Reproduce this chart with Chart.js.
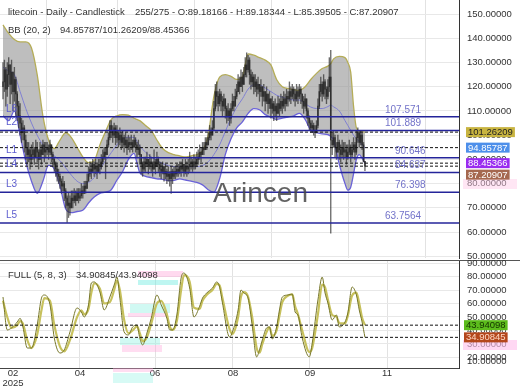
<!DOCTYPE html>
<html><head><meta charset="utf-8">
<script src="https://cdn.jsdelivr.net/npm/chart.js@4.4.1/dist/chart.umd.min.js"></script>
<style>
html,body{margin:0;padding:0;background:#fff;width:520px;height:390px;overflow:hidden}
#c1{position:absolute;left:0;top:0}
#c2{position:absolute;left:0;top:258px}
</style></head><body>
<canvas id="c1" width="520" height="272"></canvas>
<canvas id="c2" width="520" height="132"></canvas>
<script>
// ---------------- DATA ----------------
const firstOpen = 120;
const closes = [
122,127,119,125,129,121,126,118,123,117,
112,108,105,101,103,98,95,92,94,90,
92,94,91,95,93,90,94,92,96,93,
94,95,93,96,92,90,88,86,84,83,
81,79,80,77,74,71,72,70,74,73,
75,73,76,74,75,77,76,79,78,81,
84,86,85,88,86,87,85,88,87,89,
91,93,92,96,99,104,102,100,103,99,
101,98,100,97,99,96,98,95,97,96,
97,95,98,96,94,95,92,88,86,89,
88,90,87,89,88,86,89,87,90,88,
86,85,87,84,85,83,84,82,85,83,
85,84,86,85,87,86,88,85,87,86,
87,88,89,87,89,88,90,91,93,92,
95,94,97,96,99,101,100,103,111,118,
116,113,117,114,112,115,111,108,110,107,
111,114,112,116,118,122,120,124,121,125,
129,127,131,125,122,124,120,122,119,121,
118,120,116,118,114,117,113,115,111,113,
110,112,109,113,111,114,112,115,113,116,
115,118,116,119,117,115,118,116,119,117,
114,112,115,110,107,105,103,104,102,101,
104,112,118,121,117,122,119,116,120,124,
98,96,99,95,93,97,94,92,95,93,
94,91,93,95,92,94,96,93,99,101,
97,100,96,89.18166,87.20907];
const highs = [
130,131,128,130,132,129,131,126,128,124,
118,114,113,107,106,104,100,97,97,95,
96,97,95,98,97,94,97,96,98,97,
97,97,96,98,96,93,91,89,88,86,
84,82,83,81,78,75,76,75,77,77,
78,77,78,78,78,80,79,81,81,84,
87,89,88,90,89,90,88,90,90,92,
94,95,95,98,101,106,106,104,105,104,
104,102,103,101,102,100,101,99,100,99,
100,98,100,99,97,98,96,92,89,91,
91,93,90,92,91,89,94,90,93,91,
89,88,89,87,88,86,87,85,87,86,
87,87,88,88,89,89,90,88,90,89,
90,93,91,90,92,91,93,94,96,95,
97,97,99,99,101,104,103,106,114,121,
122,118,119,118,116,117,115,112,113,111,
113,117,116,119,121,125,124,127,126,128,
132,134,133,132,127,126,125,125,123,124,
121,123,120,121,118,120,117,118,115,116,
114,115,113,116,115,117,116,118,117,119,
118,122,120,121,120,119,121,120,121,120,
117,116,117,115,111,108,106,106,105,104,
106,115,121,124,122,125,123,120,123,132,
135,101,102,100,97,100,98,96,98,97,
97,96,96,98,96,97,99,97,102,103,
102,102,101,97,89.18344];
const lows = [
115,118,112,116,120,113,117,110,114,108,
106,103,100,97,98,93,90,88,89,86,
88,90,88,91,89,86,90,88,92,89,
91,92,90,92,89,87,85,83,81,80,
78,76,77,73,70,64,66,67,70,70,
72,71,73,72,73,74,74,76,76,78,
81,83,82,85,83,84,82,85,84,86,
88,90,82,92,95,98,99,97,99,96,
97,95,96,94,95,93,95,92,94,93,
94,93,95,93,91,92,88,84,83,85,
85,87,84,86,85,83,86,84,87,85,
83,82,84,81,82,80,81,79,76,80,
82,82,83,83,84,83,85,83,84,83,
84,85,86,85,86,86,87,88,90,89,
92,92,94,94,96,98,98,100,102,110,
112,110,112,110,108,110,107,105,106,104,
105,110,110,112,115,118,117,120,118,121,
124,124,126,121,119,120,117,118,116,117,
114,116,112,114,110,113,109,111,107,109,
106,108,106,109,108,110,109,111,110,112,
112,114,113,115,114,112,114,113,115,113,
111,109,111,107,104,102,101,101,100,99,
101,103,111,116,114,116,115,113,115,118,
59.5,92,95,91,90,93,90,89,91,90,
91,88,90,92,89,91,93,90,92,97,
95,96,94,89,85.39505];

// Bollinger bands (20,2)
const bbIdx = [0,4,8,12,16,20,24,28,32,36,40,44,48,52,56,60,64,68,72,76,80,84,88,92,94,96,100,104,108,112,116,120,124,128,132,136,140,144,148,152,156,160,164,168,172,176,180,184,188,192,196,200,204,208,212,216,220,224,228,230,232,236,240,242,244,246,248,250,252,254];
const bbUpper = [145.5,142,139.5,138.5,138.5,136,125,108,98,94.5,98,101,99,95,91,88.7,89.5,96,101.5,106.5,108,108.5,108.3,107,106.5,106,104,102,98,94.5,92.8,92,91.5,91,91.5,92,93.5,100,116,124,125,124.3,123,124,133.5,133,132,131,129,123,120,119.3,118.8,118.5,120,123,125.5,127.5,128.5,129.5,131.5,132.5,132,130,126,112,103,101.8,101.5,101.26209];
const bbLower = [108,106,110,100,89,81,76,81,87.5,86,79,69.5,68,68.5,69,72,74.5,76,76.5,77.5,81.5,85,90,92.5,88.5,84.5,83,82.5,82,81.8,81.2,81.3,82,81.5,81,80.5,79.5,77.5,76.5,82,92,98.5,103,105.5,109,111,110.5,108.5,107.5,106.5,107,107.5,108,109,106.5,102,101,100.5,100.2,99.5,98,88,80,77.3,78.5,84,90,92,90.5,88.45366];
const bbMiddle = [128,126.5,125,118,111,105,100,96,93.5,91.5,89.5,86.5,83.5,81,80,80.5,82.5,86,89.5,92.8,96,98.5,99.2,99,97.5,95.5,93,91,89.5,88.3,87.5,87,87,87,87,87,87.5,89,92,96,101.5,107,111.5,115,119,120.8,120.7,119.5,118,116.5,115.7,115,114.5,114.5,113,111.6,111,111,111.8,112.4,111.7,110,106,104,102,100,98.5,97.5,96,94.85787];

// Full stochastic (5,8,3)
const stochIdx = [0,3,6,10,12,14,17,20,24,27,29,33,36,40,43,47,52,55,57,60,62,64,68,71,75,78,80,82,85,88,91,94,96,98,101,104,108,111,115,117,119,122,125,127,131,134,138,140,143,147,150,152,154,159,161,165,167,169,172,175,178,180,182,185,187,189,192,194,196,200,203,205,207,210,215,217,221,224,226,228,231,234,236,240,242,245,248,250,252,254];
const stochK = [64.8,40.4,41.9,46.3,49,42.6,27,27,44,64,66.3,59,34.4,23.3,25.6,38.9,56.7,53.7,50,59,75.2,76,68.5,55.2,64.8,73.7,79.6,64,38.9,36.7,42.6,44,34.4,29.3,38.1,49,66.3,59,49,40.4,40.4,51.5,78.9,82.6,71.5,50,58,64,67.8,71.5,76,72.2,60.4,35.2,38.9,55.2,70,67.8,64,42.6,20.4,25.6,33,41.9,42.6,33.7,42.6,55.2,64.8,66.3,67,53.7,51.5,34.4,20.4,30.7,62.6,79.6,67.8,60.4,47.8,51.5,42.6,46.3,53,72.2,66.3,55.2,46.3,34.90845];
const stochD = [62,50,42,44,47,45,33,27,37,55,64,62,44,28,24.5,33,50,55,52,56,68,75,71,60,61,70,77,70,48,38,40,43,38,32,35,45,60,62,52,43,40.4,47,70,81,76,57,56,62,66.5,70,74.5,73.5,64,41,37.5,50,65,68.5,65,49,27,23.5,30,39,42.3,36,40,51,61,65.8,66.8,58,52,40,24,27,52,74,72,63,51.5,50.3,45.5,45.2,51,66,68,60,49.5,43.94098];

// Levels
const levels = [107.571, 101.889, 90.646, 84.637, 76.398, 63.7564];
const levelNames = ['L6','L2','L1','L4','L3','L5'];

// Axis ticks
const xTickPos = [7, 54, 106.7, 161.4, 215.4, 269.5];
const xTickLabels = [['02','2025'], '04', '06', '08', '09', '11'];
const priceTicks = [50,60,70,80,90,100,110,120,130,140,150];
const stochTicks = [17.4,20,30,40,50,60,70,80,90];
const stochTickText = ['10.00000','20.00000','30.00000','40.00000','50.00000','60.00000','70.00000','80.00000','90.00000'];

// Header texts
const title1 = 'litecoin - Daily - Candlestick';
const title2 = '255/275 - O:89.18166 - H:89.18344 - L:85.39505 - C:87.20907';
const bbTitle = 'BB (20, 2)';
const bbValues = '94.85787/101.26209/88.45366';
const stTitle = 'FULL (5, 8, 3)';
const stValues = '34.90845/43.94098';

// ---------------- STYLE / LAYOUT ----------------
const X_MIN = -2.1, X_MAX = 320;
const FONT = '"Liberation Sans", Arial, sans-serif';
const levelLabelX = [385, 385, 395, 395, 395, 385];
Chart.defaults.font.family = FONT;
Chart.defaults.font.size = 9.5;
Chart.defaults.color = '#333';

const opens = closes.map((c, i) => i === 0 ? firstOpen : closes[i - 1]);
const pts = (idx, vals) => idx.map((x, k) => ({x, y: vals[k]}));
const hLine = (v, color, width, dash, order) => ({
  type: 'line', data: [{x: X_MIN, y: v}, {x: X_MAX, y: v}], borderColor: color,
  borderWidth: width, borderDash: dash, pointRadius: 0, fill: false, order
});
const noPadY = s => { s.width = 61; s.paddingTop = 0; s.paddingBottom = 0; };
const noPadX = h => s => { s.height = h; s.paddingLeft = 0; s.paddingRight = 0; };

function drawTags(ctx, scale, items, x0) {
  ctx.font = '9.5px ' + FONT;
  ctx.textBaseline = 'middle';
  ctx.textAlign = 'left';
  let lastBottom = -1e9;
  items.map(it => Object.assign({}, it, {py: scale.getPixelForValue(it.v)}))
    .sort((a, b) => a.py - b.py)
    .forEach(it => {
      let top = it.py - 5;
      if (top < lastBottom + 1.5) top = lastBottom + 1.5;
      const txt = it.v.toFixed(5);
      const w = ctx.measureText(txt).width + 4;
      ctx.fillStyle = it.bg; ctx.fillRect(x0, top, w, 10);
      ctx.fillStyle = it.fg; ctx.fillText(txt, x0 + 2, top + 5.5);
      lastBottom = top + 10;
    });
}

const overlay1 = {
  id: 'overlay1',
  afterDatasetsDraw(chart) {
    const {ctx} = chart; const y = chart.scales.y;
    ctx.save();
    ctx.font = '10px ' + FONT; ctx.textBaseline = 'middle'; ctx.textAlign = 'left';
    levels.forEach((v, k) => {
      const py = y.getPixelForValue(v);
      ctx.fillStyle = '#7373c9'; ctx.fillText(String(v), levelLabelX[k], py - 7);
      ctx.fillStyle = '#5d5dcf'; ctx.fillText(levelNames[k], 6, py - 8);
    });
    ctx.font = '28px ' + FONT; ctx.fillStyle = 'rgba(70,70,70,0.85)';
    ctx.textAlign = 'center'; ctx.textBaseline = 'alphabetic';
    ctx.fillText('Arincen', 260.5, 202);
    ctx.restore();
  },
  afterDraw(chart) {
    const {ctx} = chart; const y = chart.scales.y;
    ctx.save();
    ctx.font = '9.5px ' + FONT; ctx.fillStyle = '#333'; ctx.textBaseline = 'middle'; ctx.textAlign = 'left';
    ctx.fillText(title1, 8, 12.5);
    ctx.fillText(title2, 135, 12.5);
    ctx.fillText(bbTitle, 8, 30);
    ctx.fillText(bbValues, 60, 30);
    ctx.fillStyle = 'rgba(255,200,230,0.45)';
    ctx.fillRect(463, 179, 54, 10);
    drawTags(ctx, y, [
      {v: bbUpper[bbUpper.length - 1], bg: '#c8b440', fg: '#222'},
      {v: bbMiddle[bbMiddle.length - 1], bg: '#4d8fea', fg: '#fff'},
      {v: bbLower[bbLower.length - 1], bg: '#9a2cf0', fg: '#fff'},
      {v: closes[closes.length - 1], bg: '#a5684f', fg: '#fff'}
    ], 466);
    ctx.restore();
  }
};

new Chart(document.getElementById('c1'), {
  type: 'bar',
  data: { datasets: [
    {type: 'line', data: pts(bbIdx, bbUpper), borderColor: '#b5ad58', borderWidth: 1.3, pointRadius: 0,
     fill: '+1', backgroundColor: 'rgba(150,150,150,0.62)', cubicInterpolationMode: 'monotone', order: 20},
    {type: 'line', data: pts(bbIdx, bbLower), borderColor: '#6a62d8', borderWidth: 1.3, pointRadius: 0,
     fill: false, cubicInterpolationMode: 'monotone', order: 19},
    {type: 'line', data: pts(bbIdx, bbMiddle), borderColor: '#7f7fd2', borderWidth: 1, pointRadius: 0,
     fill: false, cubicInterpolationMode: 'monotone', order: 18},
    {type: 'bar', data: closes.map((c, i) => ({x: i, y: [Math.min(lows[i], opens[i], c), Math.max(highs[i], opens[i], c)]})),
     backgroundColor: 'rgba(45,45,45,0.7)', barThickness: 0.7, grouped: false, borderWidth: 0, order: 10},
    {type: 'bar', data: closes.map((c, i) => ({x: i, y: [opens[i], c]})),
     backgroundColor: 'rgba(40,40,40,0.85)', barThickness: 0.9, grouped: false, borderWidth: 0, minBarLength: 1, order: 9},
    ...levels.map(v => hLine(v, '#24249a', 1.5, [], 5)),
    hLine(bbUpper[bbUpper.length - 1], '#111', 1, [3, 2], 2),
    hLine(bbMiddle[bbMiddle.length - 1], '#111', 1, [3, 2], 2),
    hLine(bbLower[bbLower.length - 1], '#111', 1, [3, 2], 2),
    hLine(closes[closes.length - 1], '#111', 1, [3, 2], 2)
  ]},
  options: {
    responsive: false, maintainAspectRatio: false, animation: false, devicePixelRatio: 1, events: [],
    layout: {padding: {top: 0, bottom: 14, left: 0, right: 0}},
    plugins: {legend: {display: false}, tooltip: {enabled: false}},
    scales: {
      x: {type: 'linear', min: X_MIN, max: X_MAX, offset: false,
          afterBuildTicks: s => { s.ticks = xTickPos.map(v => ({value: v})); },
          ticks: {display: false}, border: {display: false},
          grid: {drawTicks: false, color: c => c.index === 0 ? 'rgba(0,0,0,0)' : '#e2e2e2'},
          afterFit: noPadX(0)},
      y: {position: 'right', min: 49.3, max: 155.8,
          afterBuildTicks: s => { s.ticks = priceTicks.map(v => ({value: v})); },
          ticks: {callback: v => Number(v).toFixed(5), padding: 8, color: '#333', autoSkip: false},
          grid: {drawTicks: false, color: '#e8e8e8'},
          border: {display: true, color: '#333', width: 1},
          afterFit: noPadY}
    }
  },
  plugins: [overlay1]
});

const ghosts = [
  [138, 13, 45, 6, 'rgba(255,170,220,0.45)'], [138, 22, 40, 5, 'rgba(110,235,225,0.45)'],
  [130, 46, 40, 9, 'rgba(140,240,225,0.40)'], [128, 55, 40, 4, 'rgba(255,170,220,0.40)'],
  [120, 80, 40, 7, 'rgba(140,240,225,0.40)'], [122, 87, 40, 7, 'rgba(255,170,220,0.40)'],
  [113, 110, 40, 4, 'rgba(255,170,220,0.40)'], [113, 115, 40, 10, 'rgba(140,240,225,0.35)']
];
const overlay2 = {
  id: 'overlay2',
  beforeDatasetsDraw(chart) {
    const {ctx} = chart; ctx.save();
    ghosts.forEach(g => { ctx.fillStyle = g[4]; ctx.fillRect(g[0], g[1], g[2], g[3]); });
    ctx.restore();
  },
  afterDraw(chart) {
    const {ctx} = chart; const y = chart.scales.y;
    ctx.save();
    ctx.strokeStyle = '#555'; ctx.lineWidth = 1;
    ctx.beginPath(); ctx.moveTo(0, 2.5); ctx.lineTo(520, 2.5); ctx.stroke();
    ctx.font = '9.5px ' + FONT; ctx.fillStyle = '#333'; ctx.textBaseline = 'middle'; ctx.textAlign = 'left';
    ctx.fillText(stTitle, 8, 17);
    ctx.fillText(stValues, 76, 17);
    // top tick label of the oscillator axis (drawn explicitly so it is never dropped)
    const topIdx = stochTicks.length - 1;
    ctx.fillText(stochTickText[topIdx], y.right - 61 + 8, y.getPixelForValue(stochTicks[topIdx]) + 0.5);
    ctx.fillStyle = 'rgba(255,190,235,0.6)';
    ctx.fillRect(463, 82, 54, 10);
    drawTags(ctx, y, [
      {v: stochD[stochD.length - 1], bg: '#5cbc1c', fg: '#143300'},
      {v: stochK[stochK.length - 1], bg: '#b4471c', fg: '#ffd9c4'}
    ], 464);
    ctx.restore();
  }
};

new Chart(document.getElementById('c2'), {
  type: 'line',
  data: { datasets: [
    {data: pts(stochIdx, stochD), borderColor: '#c7c15d', borderWidth: 2.2, pointRadius: 0, cubicInterpolationMode: 'monotone', order: 5},
    {data: pts(stochIdx, stochK), borderColor: '#77772a', borderWidth: 1, pointRadius: 0, cubicInterpolationMode: 'monotone', order: 4},
    hLine(stochD[stochD.length - 1], '#111', 1, [3, 2], 2),
    hLine(stochK[stochK.length - 1], '#111', 1, [3, 2], 2)
  ]},
  options: {
    responsive: false, maintainAspectRatio: false, animation: false, devicePixelRatio: 1, events: [],
    layout: {padding: {top: 3, bottom: 0, left: 0, right: 0}},
    plugins: {legend: {display: false}, tooltip: {enabled: false}},
    scales: {
      x: {type: 'linear', min: X_MIN, max: X_MAX, offset: false,
          afterBuildTicks: s => { s.ticks = xTickPos.map(v => ({value: v})); },
          ticks: {callback: (v, i) => xTickLabels[i], padding: 1, maxRotation: 0, autoSkip: false, color: '#333',
                  font: {size: 9.5, lineHeight: 1.0}},
          border: {display: true, color: '#444', width: 1},
          grid: {drawTicks: false, color: c => c.index === 0 ? 'rgba(0,0,0,0)' : '#e2e2e2'},
          afterFit: noPadX(22)},
      y: {position: 'right', min: 12.2, max: 91.5,
          afterBuildTicks: s => { s.ticks = stochTicks.map(v => ({value: v})); },
          ticks: {callback: (v, i) => i === stochTicks.length - 1 ? '' : stochTickText[i], padding: 8, color: '#333', autoSkip: false},
          grid: {drawTicks: false, color: c => c.index === 0 ? 'rgba(0,0,0,0)' : '#e8e8e8'},
          border: {display: true, color: '#333', width: 1},
          afterFit: noPadY}
    }
  },
  plugins: [overlay2]
});
</script>
</body></html>
